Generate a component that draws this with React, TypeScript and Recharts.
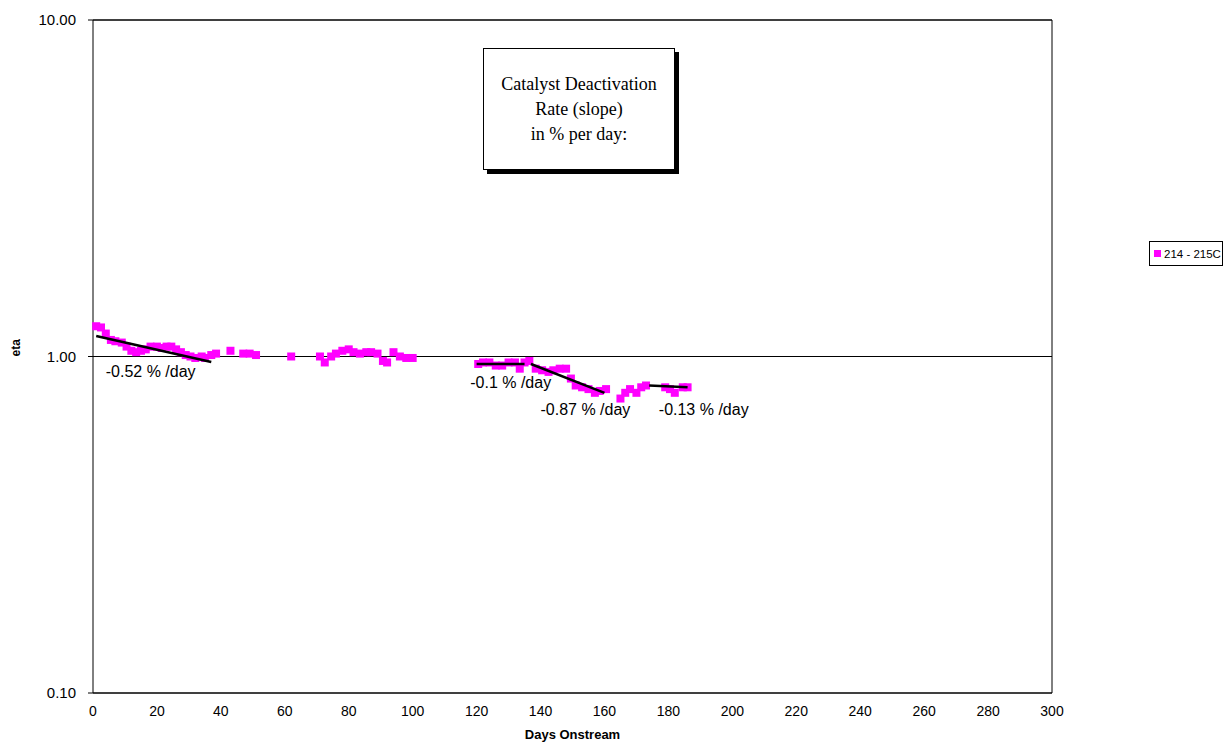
import React from 'react';
import {
  ComposedChart, Scatter, XAxis, YAxis, CartesianGrid, ReferenceLine,
} from 'recharts';

// measured points (days onstream, eta)
const days = [
  1, 2.5, 4, 5.6, 7, 9, 10.5, 12, 13.5, 15, 16.5, 18, 20, 21.5, 23, 24.5, 26, 27.5, 29, 30.5, 32, 34, 35, 37, 38.5,
  43, 47, 49, 51,
  62,
  71, 72.5, 74.5, 76, 78, 80, 81.5, 83.5, 85.5, 87, 89, 90.7, 92, 94, 96, 98, 100,
  120.5, 122, 124, 126, 128, 130, 132, 133.5, 135, 136.5, 138.5, 140.5, 142.5, 144, 146, 148, 149.5, 151, 153, 155, 157, 158.5, 160.5,
  165, 166.5, 168, 170, 171.5, 173, 179, 180.5, 182, 184.5, 186,
];
const eta = [
  1.23, 1.22, 1.17, 1.12, 1.11, 1.1, 1.07, 1.04, 1.03, 1.04, 1.05, 1.07, 1.07, 1.06, 1.07, 1.07, 1.05, 1.03, 1.01, 1.0, 0.99, 1.0, 0.99, 1.01, 1.02,
  1.04, 1.02, 1.02, 1.01,
  1.0,
  1.0, 0.96, 1.0, 1.02, 1.04, 1.05, 1.03, 1.02, 1.03, 1.03, 1.02, 0.97, 0.96, 1.03, 1.0, 0.99, 0.99,
  0.95, 0.96, 0.96, 0.94, 0.94, 0.96, 0.96, 0.92, 0.96, 0.97, 0.92, 0.91, 0.9, 0.91, 0.92, 0.92, 0.86, 0.82, 0.81, 0.8, 0.78, 0.79, 0.8,
  0.75, 0.78, 0.8, 0.78, 0.81, 0.82, 0.81, 0.8, 0.78, 0.81, 0.81,
];

// fitted trend segments: [startDay, startEta, endDay, endEta]
const trends = [
  [1, 1.15, 37, 0.963],
  [120, 0.95, 135, 0.95],
  [137, 0.95, 160, 0.78],
  [174, 0.82, 186, 0.81],
];
const slopeLabels = ['-0.52 % /day', '-0.1 % /day', '-0.87 % /day', '-0.13 % /day'];
const labelDays = [4, 118, 140, 177];
const labelEta = [0.869, 0.806, 0.67, 0.67];

const xTicks = [0, 20, 40, 60, 80, 100, 120, 140, 160, 180, 200, 220, 240, 260, 280, 300];
const yTicks = [0.1, 1, 10];
const boxLines = ['Catalyst Deactivation', 'Rate (slope)', 'in % per day:'];

const points = days.map((d, i) => ({ x: d, y: eta[i] }));
const notes = slopeLabels.map((t, i) => ({ x: labelDays[i], y: labelEta[i], text: t }));

const Square = (p: any) => (
  <rect x={p.cx - 4} y={p.cy - 4} width={8} height={8} fill="#FF00FF" />
);

const NoteText = (p: any) => (
  <text x={p.cx} y={p.cy} fontSize={16} fontFamily="'Liberation Sans', Arial" fill="#000">
    {p.payload.text}
  </text>
);

const App: React.FC = () => {
  return (
    <div style={{ position: 'absolute', left: 0, top: 0, width: 1225, height: 744, background: '#fff' }}>
      <ComposedChart
        width={1225}
        height={744}
        margin={{ top: 20, right: 173, left: 33, bottom: 21 }}
      >
        <CartesianGrid vertical={false} stroke="#000" />
        <XAxis
          type="number"
          dataKey="x"
          domain={[0, 300]}
          ticks={xTicks}
          interval={0}
          height={30}
          stroke="#000"
          tickLine={false}
          tickSize={5}
          tickMargin={8}
          tick={{ fill: '#000', fontSize: 14, fontFamily: "'Liberation Sans', Arial" }}
          label={{ value: 'Days Onstream', position: 'insideBottom', offset: -16, fill: '#000', fontSize: 13, fontWeight: 'bold', fontFamily: "'Liberation Sans', Arial" }}
        />
        <YAxis
          type="number"
          dataKey="y"
          scale="log"
          domain={[0.1, 10]}
          allowDataOverflow
          ticks={yTicks}
          interval={0}
          width={60}
          stroke="#000"
          tickSize={5}
          tickMargin={12}
          tickFormatter={(v: number) => v.toFixed(2)}
          tick={{ fill: '#000', fontSize: 15, fontFamily: "'Liberation Sans', Arial" }}
          label={{ value: 'eta', angle: -90, position: 'insideLeft', offset: -17, fill: '#000', fontSize: 12, fontWeight: 'bold', fontFamily: "'Liberation Sans', Arial" }}
        />
        <ReferenceLine x={300} stroke="#000" />
        <ReferenceLine y={10} stroke="#000" />
        <Scatter name="214 - 215C" data={points} shape={Square} isAnimationActive={false} />
        {trends.map((t, i) => (
          <Scatter
            key={i}
            data={[{ x: t[0], y: t[1] }, { x: t[2], y: t[3] }]}
            line={{ stroke: '#000', strokeWidth: 2.5 }}
            shape={() => <g />}
            legendType="none"
            isAnimationActive={false}
          />
        ))}
        <Scatter data={notes} shape={NoteText} legendType="none" isAnimationActive={false} />
      </ComposedChart>
      <div style={{
        position: 'absolute', left: 1149, top: 241, width: 74, height: 25, border: '1px solid #000',
        boxSizing: 'border-box', background: '#fff', display: 'flex', alignItems: 'center',
        fontFamily: "'Liberation Sans', Arial", fontSize: 11.5, whiteSpace: 'nowrap', paddingLeft: 4,
      }}>
        <span style={{ width: 7, height: 7, flexShrink: 0, background: '#FF00FF', display: 'inline-block', marginRight: 3 }} />
        <span>214 - 215C</span>
      </div>
      <div style={{
        position: 'absolute', left: 483, top: 48, width: 192, height: 122, border: '1px solid #000',
        boxShadow: '4px 4px 0 #000', background: '#fff', fontFamily: "'Liberation Serif', 'Times New Roman', serif",
        fontSize: 18, textAlign: 'center', lineHeight: '25px', paddingTop: 23, boxSizing: 'border-box',
      }}>
        {boxLines.map((l) => <div key={l}>{l}</div>)}
      </div>
    </div>
  );
};

export default App;
